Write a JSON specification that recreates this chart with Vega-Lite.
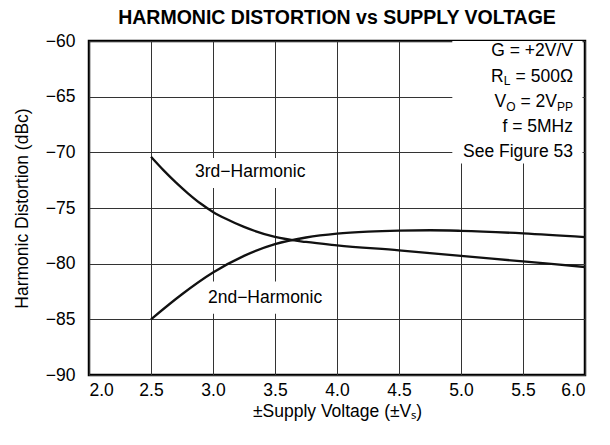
{
  "$schema": "https://vega.github.io/schema/vega-lite/v6.json",
  "width": 496,
  "height": 334,
  "autosize": "none",
  "padding": {"left": 89, "top": 41, "right": 25, "bottom": 70},
  "background": "white",
  "title": {
    "text": "HARMONIC DISTORTION vs SUPPLY VOLTAGE",
    "font": "Liberation Sans",
    "fontSize": 19.5,
    "fontWeight": "bold",
    "color": "#000",
    "anchor": "middle",
    "frame": "group",
    "offset": 4
  },
  "config": {
    "font": "Liberation Sans",
    "view": {"stroke": "#000", "strokeWidth": 2.5},
    "axis": {
      "labelFont": "Liberation Sans",
      "titleFont": "Liberation Sans",
      "labelColor": "#000",
      "titleColor": "#000",
      "labelFontSize": 17.5,
      "titleFontSize": 17.5,
      "titleFontWeight": "normal",
      "ticks": false,
      "domain": false,
      "grid": true,
      "gridColor": "#333",
      "gridWidth": 1,
      "gridOpacity": 1
    }
  },
  "datasets": {
    "curves": [
      {"series": "3rd", "v": 2.5, "dbc": -70.4},
      {"series": "3rd", "v": 2.6, "dbc": -71.6},
      {"series": "3rd", "v": 2.7, "dbc": -72.7},
      {"series": "3rd", "v": 2.8, "dbc": -73.7},
      {"series": "3rd", "v": 2.9, "dbc": -74.6},
      {"series": "3rd", "v": 3.0, "dbc": -75.35},
      {"series": "3rd", "v": 3.1, "dbc": -75.95},
      {"series": "3rd", "v": 3.25, "dbc": -76.7},
      {"series": "3rd", "v": 3.5, "dbc": -77.6},
      {"series": "3rd", "v": 3.75, "dbc": -78.05},
      {"series": "3rd", "v": 4.0, "dbc": -78.35},
      {"series": "3rd", "v": 4.5, "dbc": -78.8},
      {"series": "3rd", "v": 5.0, "dbc": -79.3},
      {"series": "3rd", "v": 5.5, "dbc": -79.8},
      {"series": "3rd", "v": 6.0, "dbc": -80.3},
      {"series": "2nd", "v": 2.5, "dbc": -85.0},
      {"series": "2nd", "v": 2.75, "dbc": -82.75},
      {"series": "2nd", "v": 3.0, "dbc": -80.8},
      {"series": "2nd", "v": 3.25, "dbc": -79.3},
      {"series": "2nd", "v": 3.5, "dbc": -78.25},
      {"series": "2nd", "v": 3.75, "dbc": -77.65},
      {"series": "2nd", "v": 4.0, "dbc": -77.3},
      {"series": "2nd", "v": 4.25, "dbc": -77.12},
      {"series": "2nd", "v": 4.5, "dbc": -77.03},
      {"series": "2nd", "v": 4.75, "dbc": -77.0},
      {"series": "2nd", "v": 5.0, "dbc": -77.05},
      {"series": "2nd", "v": 5.5, "dbc": -77.28},
      {"series": "2nd", "v": 6.0, "dbc": -77.62}
    ],
    "boxes": [
      {"x1": 4.93, "x2": 5.98, "y1": -60.0, "y2": -71.0},
      {"x1": 2.79, "x2": 3.82, "y1": -70.5, "y2": -73.2},
      {"x1": 2.89, "x2": 3.95, "y1": -81.6, "y2": -84.5}
    ],
    "labels": [
      {"x": 3.30, "y": -71.8, "text": "3rd−Harmonic"},
      {"x": 3.42, "y": -83.1, "text": "2nd−Harmonic"}
    ],
    "notes": [
      {"x": 5.903, "y": -60.9, "text": "G = +2V/V"},
      {"x": 5.903, "y": -63.2, "text": " = 500Ω"},
      {"x": 5.344, "y": -63.2, "text": "R"},
      {"x": 5.774, "y": -65.5, "text": " = 2V"},
      {"x": 5.365, "y": -65.5, "text": "V"},
      {"x": 5.903, "y": -67.7, "text": "f = 5MHz"},
      {"x": 5.903, "y": -69.95, "text": "See Figure 53"}
    ],
    "subs": [
      {"x": 5.398, "y": -63.6, "text": "L"},
      {"x": 5.903, "y": -65.9, "text": "PP"},
      {"x": 5.440, "y": -65.9, "text": "O"}
    ]
  },
  "layer": [
    {
      "data": {"name": "boxes"},
      "mark": {"type": "rect", "fill": "white"},
      "encoding": {
        "x": {
          "field": "x1", "type": "quantitative", "title": "±Supply Voltage (±Vₛ)",
          "scale": {"domain": [2, 6], "nice": false, "zero": false},
          "axis": {
            "values": [2, 2.5, 3, 3.5, 4, 4.5, 5, 5.5, 6],
            "format": ".1f",
            "labelPadding": 6,
            "titlePadding": 4,
            "zindex": 0
          }
        },
        "x2": {"field": "x2"},
        "y": {
          "field": "y1", "type": "quantitative", "title": "Harmonic Distortion (dBc)",
          "scale": {"domain": [-90, -60], "nice": false, "zero": false},
          "axis": {
            "values": [-90, -85, -80, -75, -70, -65, -60],
            "format": "d",
            "labelPadding": 14,
            "titlePadding": 14,
            "zindex": 0
          }
        },
        "y2": {"field": "y2"}
      }
    },
    {
      "data": {"name": "curves"},
      "mark": {"type": "line", "color": "#111", "strokeWidth": 2.3, "interpolate": "monotone"},
      "encoding": {
        "x": {"field": "v", "type": "quantitative", "title": "±Supply Voltage (±Vₛ)"},
        "y": {"field": "dbc", "type": "quantitative", "title": "Harmonic Distortion (dBc)"},
        "detail": {"field": "series"}
      }
    },
    {
      "data": {"name": "labels"},
      "mark": {"type": "text", "fontSize": 17.5, "color": "#000", "align": "center", "baseline": "middle"},
      "encoding": {
        "x": {"field": "x", "type": "quantitative", "title": "±Supply Voltage (±Vₛ)"},
        "y": {"field": "y", "type": "quantitative", "title": "Harmonic Distortion (dBc)"},
        "text": {"field": "text"}
      }
    },
    {
      "data": {"name": "notes"},
      "mark": {"type": "text", "fontSize": 17.5, "color": "#000", "align": "right", "baseline": "middle"},
      "encoding": {
        "x": {"field": "x", "type": "quantitative", "title": "±Supply Voltage (±Vₛ)"},
        "y": {"field": "y", "type": "quantitative", "title": "Harmonic Distortion (dBc)"},
        "text": {"field": "text"}
      }
    },
    {
      "data": {"name": "subs"},
      "mark": {"type": "text", "fontSize": 12, "color": "#000", "align": "right", "baseline": "middle"},
      "encoding": {
        "x": {"field": "x", "type": "quantitative", "title": "±Supply Voltage (±Vₛ)"},
        "y": {"field": "y", "type": "quantitative", "title": "Harmonic Distortion (dBc)"},
        "text": {"field": "text"}
      }
    }
  ]
}
